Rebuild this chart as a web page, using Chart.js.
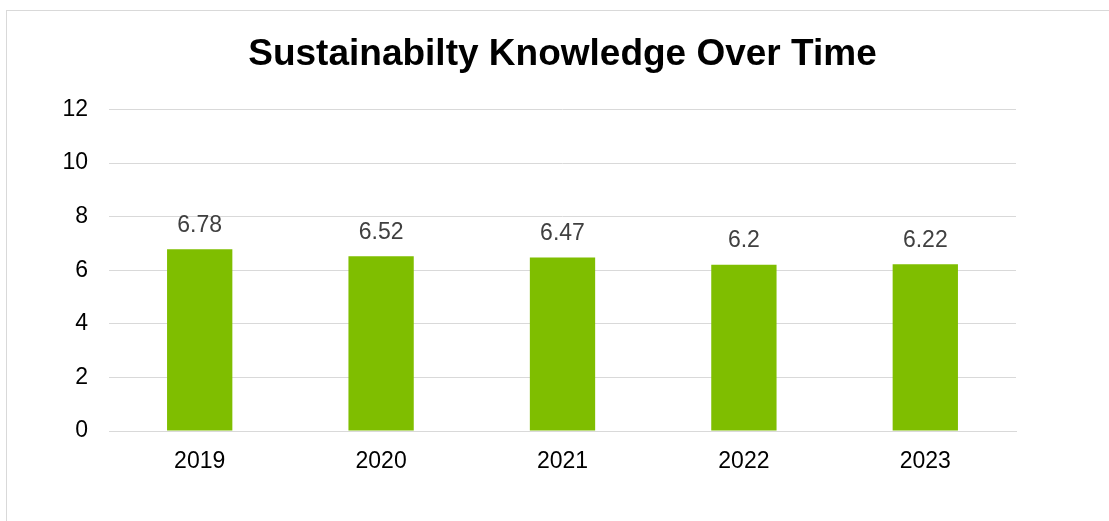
<!DOCTYPE html>
<html>
<head>
<meta charset="utf-8">
<script src="https://cdn.jsdelivr.net/npm/chart.js@4"></script>
<style>
  html, body { margin: 0; padding: 0; background: #fff; overflow: hidden; }
  .frame {
    position: absolute; left: 6px; top: 10px;
    width: 1200px; height: 600px;
    border: 1px solid #d9d9d9;
  }
  .wrap { position: absolute; left: 0; top: 0; width: 1109px; height: 521px; }
</style>
</head>
<body>
<div class="frame"></div>
<div class="wrap"><canvas id="barChart"></canvas></div>
<script>
// chart data
const years = ['2019', '2020', '2021', '2022', '2023'];
const knowledge = [6.78, 6.52, 6.47, 6.2, 6.22];
const yTicks = [0, 2, 4, 6, 8, 10, 12];

const FONT = '"Liberation Sans", Arial, sans-serif';

// value labels above each bar
const valueLabels = {
    id: 'valueLabels',
    afterDatasetsDraw(chart) {
        const ctx = chart.ctx;
        const meta = chart.getDatasetMeta(0);
        ctx.save();
        ctx.font = '23px ' + FONT;
        ctx.fillStyle = '#404040';
        ctx.textAlign = 'center';
        ctx.textBaseline = 'middle';
        meta.data.forEach((bar, i) => {
            ctx.fillText(String(knowledge[i]), bar.x, bar.y - 24);
        });
        ctx.restore();
    }
};

new Chart(document.getElementById('barChart'), {
    type: 'bar',
    data: {
        labels: years,
        datasets: [{
            data: knowledge,
            backgroundColor: '#7fbe00',
            borderWidth: 0,
            categoryPercentage: 1,
            barPercentage: 0.36
        }]
    },
    options: {
        responsive: true,
        maintainAspectRatio: false,
        animation: false,
        layout: { padding: { left: 0, right: 93, top: 0, bottom: 0 } },
        plugins: {
            legend: { display: false },
            tooltip: { enabled: false },
            title: {
                display: true,
                fullSize: false, // centre over the plot area
                text: 'Sustainabilty Knowledge Over Time',
                color: '#000',
                font: { family: FONT, size: 37, weight: 'bold' },
                padding: { top: 33, bottom: 32 }
            }
        },
        scales: {
            x: {
                grid: { display: false, drawTicks: false },
                border: { display: true, color: '#d9d9d9', width: 1 },
                ticks: { color: '#000', font: { family: FONT, size: 23 }, padding: 17 },
                afterFit(scale) { scale.height = 90; }
            },
            y: {
                min: 0,
                max: 12,
                afterBuildTicks(scale) { scale.ticks = yTicks.map(v => ({ value: v })); },
                grid: { color: '#d9d9d9', lineWidth: 1, drawTicks: false },
                border: { display: false },
                ticks: { color: '#000', font: { family: FONT, size: 23 }, padding: 21 },
                afterFit(scale) { scale.width = 109; }
            }
        }
    },
    plugins: [valueLabels]
});
</script>
</body>
</html>
